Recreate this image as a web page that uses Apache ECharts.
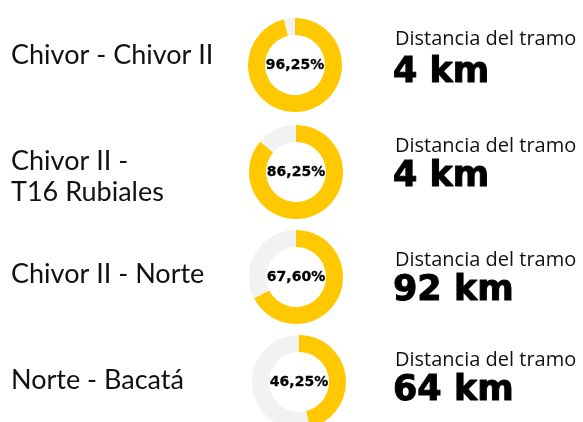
<!DOCTYPE html>
<html>
<head>
<meta charset="utf-8">
<script src="https://cdn.jsdelivr.net/npm/echarts@6/dist/echarts.min.js"></script>
<style>
  html, body { margin: 0; padding: 0; background: #fff; }
  #main { width: 583px; height: 422px; }
</style>
</head>
<body>
<div id="main"></div>
<script>
var tramos = ['Chivor - Chivor II', 'Chivor II -\nT16 Rubiales', 'Chivor II - Norte', 'Norte - Bacatá'];
var avance = [96.25, 86.25, 67.60, 46.25];
var distancias = ['4 km', '4 km', '92 km', '64 km'];
var subtitulo = 'Distancia del tramo';

// layout per row
var centros = [[295, 65], [296, 172], [296, 277], [299, 382]];
var labelY = [55, 177, 274, 380];
var subY = [39, 146, 260, 360];
var distY = [73, 177, 291, 391];

var myChart = echarts.init(document.getElementById('main'));

var series = [];
var graphic = [];
for (var i = 0; i < tramos.length; i++) {
  series.push({
    type: 'pie',
    center: centros[i],
    radius: [30, 47],
    startAngle: 90,
    silent: true,
    label: {
      show: true,
      position: 'center',
      formatter: function(p) {
        return p.dataIndex === 0 ? p.value.toFixed(2).replace('.', ',') + '%' : '';
      },
      fontFamily: 'DejaVu Sans',
      fontWeight: 'bold',
      fontSize: 14,
      color: '#000',
      textBorderColor: '#000',
      textBorderWidth: 0.3
    },
    labelLine: { show: false },
    data: [
      { value: avance[i], itemStyle: { color: '#ffc800' } },
      { value: 100 - avance[i], itemStyle: { color: '#f2f2f2' }, label: { show: false } }
    ]
  });
  graphic.push({
    type: 'text', x: 11, y: labelY[i], style: {
      text: tramos[i], fontFamily: 'Lato', fontSize: 27, fill: '#111', lineHeight: 31,
      verticalAlign: 'middle'
    }
  });
  graphic.push({
    type: 'text', x: 395, y: subY[i], style: {
      text: subtitulo, fontFamily: 'Open Sans', fontSize: 20, fill: '#111',
      verticalAlign: 'middle'
    }
  });
  graphic.push({
    type: 'text', x: 393, y: distY[i], style: {
      text: distancias[i], fontFamily: 'DejaVu Sans', fontWeight: 'bold', fontSize: 35, fill: '#000',
      stroke: '#000', lineWidth: 1, verticalAlign: 'middle'
    }
  });
}

myChart.setOption({
  animation: false,
  series: series,
  graphic: graphic
});
</script>
</body>
</html>
